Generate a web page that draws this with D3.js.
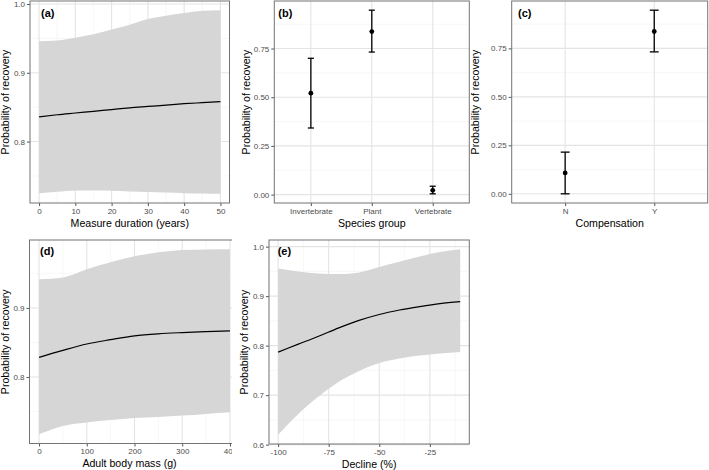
<!DOCTYPE html>
<html><head><meta charset="utf-8">
<script src="https://cdn.jsdelivr.net/npm/d3@7"></script>
<style>body{margin:0;background:#fff}svg{display:block}</style>
</head><body>
<svg id="chart" width="709" height="470"></svg>
<script>
// ---------- data ----------
// (a) Measure duration
const durationX     = [0, 5, 10, 15, 20, 25, 30, 35, 40, 45, 50];
const durationFit   = [0.836, 0.839, 0.8415, 0.844, 0.8465, 0.849, 0.851, 0.853, 0.855, 0.8565, 0.858];
const durationLower = [0.725, 0.727, 0.729, 0.729, 0.7285, 0.7275, 0.7265, 0.7258, 0.725, 0.7245, 0.724];
const durationUpper = [0.946, 0.947, 0.951, 0.956, 0.963, 0.970, 0.978, 0.983, 0.987, 0.990, 0.991];
const durationXTicks = [0, 10, 20, 30, 40, 50];
const durationYTicks = [0.8, 0.9, 1.0];

// (b) Species group
const groups     = ["Invertebrate", "Plant", "Vertebrate"];
const groupFit   = [0.521, 0.837, 0.022];
const groupLower = [0.342, 0.732, 0.004];
const groupUpper = [0.700, 0.947, 0.043];

// (c) Compensation
const compensation = ["N", "Y"];
const compFit   = [0.108, 0.837];
const compLower = [0.0, 0.732];
const compUpper = [0.215, 0.947];
const probTicks = [0, 0.25, 0.5, 0.75];

// (d) Adult body mass
const massX     = [0, 50, 100, 150, 200, 250, 300, 350, 400];
const massFit   = [0.8284, 0.8385, 0.8477, 0.854, 0.8595, 0.8625, 0.8643, 0.8657, 0.8668];
const massLower = [0.717, 0.729, 0.734, 0.7375, 0.7405, 0.742, 0.744, 0.7465, 0.749];
const massUpper = [0.9414, 0.944, 0.956, 0.966, 0.9747, 0.9805, 0.984, 0.9848, 0.985];
const massXTicks = [0, 100, 200, 300, 400];
const massYTicks = [0.8, 0.9];

// (e) Decline
const declineX     = [-100, -90, -80, -70, -60, -50, -40, -30, -20, -10];
const declineFit   = [0.787, 0.803, 0.819, 0.836, 0.851, 0.863, 0.872, 0.879, 0.885, 0.889];
const declineLower = [0.620, 0.662, 0.697, 0.727, 0.749, 0.765, 0.774, 0.780, 0.784, 0.787];
const declineUpper = [0.956, 0.950, 0.946, 0.9445, 0.948, 0.959, 0.9695, 0.980, 0.989, 0.9947];
const declineXTicks = [-100, -75, -50, -25];
const declineYTicks = [0.6, 0.7, 0.8, 0.9, 1.0];

const yTitle = "Probability of recovery";

// ---------- style ----------
const FONT = "'Liberation Sans', Arial, Helvetica, sans-serif";
const C = {grid: "#e4e4e4", minor: "#f1f1f1", border: "#737373", tick: "#555", tickText: "#4d4d4d", ribbon: "#d6d6d6"};

const svg = d3.select("#chart");
svg.append("rect").attr("width", 709).attr("height", 470).attr("fill", "#fff");

function expand(lo, hi, m = 0.05) { const d = hi - lo; return [lo - d * m, hi + d * m]; }
function midpoints(t) { const r = []; for (let i = 0; i < t.length - 1; i++) r.push((t[i] + t[i + 1]) / 2); return r; }
function withEnds(t, dom) {
  const step = t[1] - t[0];
  const m = midpoints(t);
  const lo = t[0] - step / 2, hi = t[t.length - 1] + step / 2;
  const a = Math.min(dom[0], dom[1]), b = Math.max(dom[0], dom[1]);
  if (lo >= a && lo <= b) m.unshift(lo);
  if (hi >= a && hi <= b) m.push(hi);
  return m;
}

function frame(box, x, y, o) {
  const g = svg.append("g");
  g.append("rect").attr("x", box.x0).attr("y", box.y0).attr("width", box.x1 - box.x0).attr("height", box.y1 - box.y0).attr("fill", "#fff");
  (o.yMinor || []).forEach(v => g.append("line").attr("x1", box.x0).attr("x2", box.x1).attr("y1", y(v)).attr("y2", y(v)).attr("stroke", C.minor).attr("stroke-width", 0.6));
  (o.xMinor || []).forEach(v => g.append("line").attr("y1", box.y0).attr("y2", box.y1).attr("x1", x(v)).attr("x2", x(v)).attr("stroke", C.minor).attr("stroke-width", 0.6));
  o.yMajor.forEach(v => g.append("line").attr("x1", box.x0).attr("x2", box.x1).attr("y1", y(v)).attr("y2", y(v)).attr("stroke", C.grid).attr("stroke-width", 1.1));
  o.xMajor.forEach(v => g.append("line").attr("y1", box.y0).attr("y2", box.y1).attr("x1", x(v)).attr("x2", x(v)).attr("stroke", C.grid).attr("stroke-width", 1.1));
  return g;
}

function axes(box, x, y, o) {
  const ya = svg.append("g").attr("transform", `translate(${box.x0},0)`)
    .call(d3.axisLeft(y).tickValues(o.yMajor).tickFormat(o.yFmt).tickSize(3).tickSizeOuter(0).tickPadding(2));
  const xa = svg.append("g").attr("transform", `translate(0,${box.y1})`)
    .call(d3.axisBottom(x).tickValues(o.xMajor).tickFormat(o.xFmt || (d => d)).tickSize(3).tickSizeOuter(0).tickPadding(2));
  [ya, xa].forEach(a => {
    a.select(".domain").remove();
    a.selectAll(".tick line").attr("stroke", C.tick).attr("stroke-width", 1);
    a.selectAll(".tick text").attr("fill", C.tickText).style("font-family", FONT).style("font-size", "8px");
  });
  svg.append("rect").attr("x", box.x0).attr("y", box.y0).attr("width", box.x1 - box.x0).attr("height", box.y1 - box.y0)
    .attr("fill", "none").attr("stroke", C.border).attr("stroke-width", 1);
  svg.append("text").attr("x", o.xTitleX != null ? o.xTitleX : (box.x0 + box.x1) / 2).attr("y", box.y1 + 23.5)
    .attr("text-anchor", "middle").style("font-family", FONT).style("font-size", "10.6px").attr("fill", "#000").text(o.xTitle);
  svg.append("text").attr("transform", `translate(${o.yTitleX},${(box.y0 + box.y1) / 2}) rotate(-90)`)
    .attr("text-anchor", "middle").style("font-family", FONT).style("font-size", "10.6px").attr("fill", "#000").text(yTitle);
  svg.append("text").attr("x", o.tagX).attr("y", o.tagY).style("font-family", FONT).style("font-size", "11px")
    .style("font-weight", "bold").attr("fill", "#000").text(o.tag);
}

function continuousPanel(box, xs, fit, lower, upper, o) {
  const x = d3.scaleLinear().domain(expand(d3.min(xs), d3.max(xs))).range([box.x0, box.x1]);
  const y = d3.scaleLinear().domain(expand(d3.min(lower), d3.max(upper))).range([box.y1, box.y0]);
  o.xMinor = withEnds(o.xMajor, x.domain());
  o.yMinor = withEnds(o.yMajor, y.domain());
  frame(box, x, y, o);
  const rows = xs.map((v, i) => ({x: v, f: fit[i], lo: lower[i], hi: upper[i]}));
  svg.append("path").datum(rows).attr("fill", C.ribbon)
    .attr("d", d3.area().x(d => x(d.x)).y0(d => y(d.lo)).y1(d => y(d.hi)).curve(d3.curveMonotoneX));
  svg.append("path").datum(rows).attr("fill", "none").attr("stroke", "#000").attr("stroke-width", 1.2)
    .attr("d", d3.line().x(d => x(d.x)).y(d => y(d.f)).curve(d3.curveMonotoneX));
  o.yFmt = d3.format(".1f");
  axes(box, x, y, o);
}

function discretePanel(box, cats, fit, lower, upper, o) {
  const x = d3.scalePoint().domain(cats).range([box.x0, box.x1]).padding(0.6);
  const y = d3.scaleLinear().domain(expand(d3.min(lower), d3.max(upper))).range([box.y1, box.y0]);
  o.xMajor = cats;
  o.yMinor = withEnds(o.yMajor, y.domain());
  frame(box, x, y, o);
  const hw = x.step() * 0.05;
  const g = svg.append("g");
  cats.forEach((c, i) => {
    const cx = x(c);
    g.append("line").attr("x1", cx).attr("x2", cx).attr("y1", y(lower[i])).attr("y2", y(upper[i])).attr("stroke", "#000").attr("stroke-width", 1.3);
    [lower[i], upper[i]].forEach(v => g.append("line").attr("x1", cx - hw).attr("x2", cx + hw).attr("y1", y(v)).attr("y2", y(v)).attr("stroke", "#000").attr("stroke-width", 1.3));
    g.append("circle").attr("cx", cx).attr("cy", y(fit[i])).attr("r", 2.4).attr("fill", "#000");
  });
  o.yFmt = d3.format(".2f");
  axes(box, x, y, o);
}

// (a)
continuousPanel({x0: 30, x1: 229.5, y0: 1, y1: 203}, durationX, durationFit, durationLower, durationUpper,
  {xMajor: durationXTicks, yMajor: durationYTicks, xTitle: "Measure duration (years)", yTitleX: 8.5, tag: "(a)", tagX: 41, tagY: 16.5});
// (b)
discretePanel({x0: 274.3, x1: 469.3, y0: 1, y1: 203}, groups, groupFit, groupLower, groupUpper,
  {yMajor: probTicks, xTitle: "Species group", yTitleX: 249.5, tag: "(b)", tagX: 278.3, tagY: 16.5});
// (c)
discretePanel({x0: 511.7, x1: 707.7, y0: 1, y1: 203}, compensation, compFit, compLower, compUpper,
  {yMajor: probTicks, xTitle: "Compensation", yTitleX: 478.8, tag: "(c)", tagX: 518, tagY: 16.5});
// (d)
continuousPanel({x0: 29.5, x1: 239.5, y0: 240, y1: 443.5}, massX, massFit, massLower, massUpper,
  {xMajor: massXTicks, yMajor: massYTicks, xTitle: "Adult body mass (g)", xTitleX: 129.5, yTitleX: 8.5, tag: "(d)", tagX: 40, tagY: 255});
// plot (e) background covers the right edge of plot (d)
svg.append("rect").attr("x", 232).attr("y", 231).attr("width", 477).attr("height", 239).attr("fill", "#fff");
// (e)
continuousPanel({x0: 269, x1: 469.3, y0: 240, y1: 444}, declineX, declineFit, declineLower, declineUpper,
  {xMajor: declineXTicks, yMajor: declineYTicks, xTitle: "Decline (%)", yTitleX: 247.8, tag: "(e)", tagX: 277.7, tagY: 255});
</script>
</body></html>
